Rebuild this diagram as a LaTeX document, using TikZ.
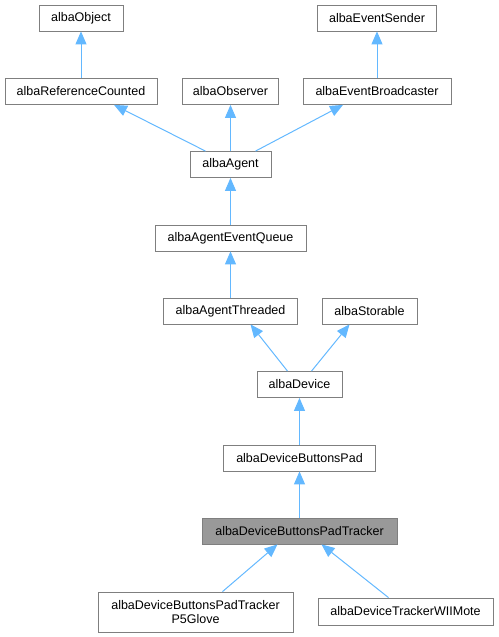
\documentclass[tikz,border=0pt]{standalone}
\usepackage{fontspec}
\setmainfont{Liberation Sans}
\usepackage{tikz}
\usetikzlibrary{arrows.meta}

\definecolor{boxline}{HTML}{7F7F7F}
\definecolor{boxfill}{HTML}{999999}
\definecolor{edgeblue}{HTML}{63B8FF}

\begin{document}
\begin{tikzpicture}[x=1pt, y=-1pt,
  cls/.style={draw=boxline, line width=0.8, fill=white, minimum height=26, inner sep=1,
    font=\fontsize{12.5}{14.5}\selectfont, align=center},
  edge/.style={-{Triangle[length=13, width=11]}, line width=1, color=edgeblue}]

\useasboundingbox (0,0) rectangle (498,637);

% top rows

\node[cls, minimum width=84] (object) at (81, 18) {albaObject};
\node[cls, minimum width=119] (sender) at (377, 18) {albaEventSender};

\node[cls, minimum width=152] (refcounted) at (81, 91.5) {albaReferenceCounted};
\node[cls, minimum width=96] (observer) at (230.5, 91.5) {albaObserver};
\node[cls, minimum width=148] (broadcaster) at (377, 91.5) {albaEventBroadcaster};

% agent chain

\node[cls, minimum width=81] (agent) at (230.5, 164.5) {albaAgent};
\node[cls, minimum width=151] (queue) at (230.5, 238) {albaAgentEventQueue};
\node[cls, minimum width=134] (threaded) at (230.5, 311) {albaAgentThreaded};
\node[cls, minimum width=95] (storable) at (369.5, 311) {albaStorable};

% device chain

\node[cls, minimum width=85] (device) at (299.5, 384.5) {albaDevice};
\node[cls, minimum width=152] (pad) at (299.5, 458) {albaDeviceButtonsPad};
\node[cls, minimum width=195, fill=boxfill] (tracker) at (299.5, 531) {albaDeviceButtonsPadTracker};

% subclasses

\node[cls, minimum width=195, minimum height=40] (glove) at (195.5, 612) {albaDeviceButtonsPadTracker\\P5Glove};
\node[cls, minimum width=175, minimum height=27] (wiimote) at (405.5, 611.5) {albaDeviceTrackerWIIMote};


% inheritance
\draw [edge] (refcounted) -- (object);
\draw [edge] (broadcaster) -- (sender);

\draw [edge] ([xshift=-25]agent.north) -- ([xshift=33]refcounted.south);
\draw [edge] (agent) -- (observer);
\draw [edge] ([xshift=25]agent.north) -- ([xshift=-34]broadcaster.south);

\draw [edge] (queue) -- (agent);
\draw [edge] (threaded) -- (queue);

\draw [edge] ([xshift=-12]device.north) -- ([xshift=20]threaded.south);
\draw [edge] ([xshift=12]device.north) -- ([xshift=-20]storable.south);

\draw [edge] (pad) -- (device);
\draw [edge] (tracker) -- (pad);

\draw [edge] ([xshift=27]glove.north) -- ([xshift=-22]tracker.south);
\draw [edge] ([xshift=-17]wiimote.north) -- ([xshift=22]tracker.south);

\end{tikzpicture}
\end{document}
